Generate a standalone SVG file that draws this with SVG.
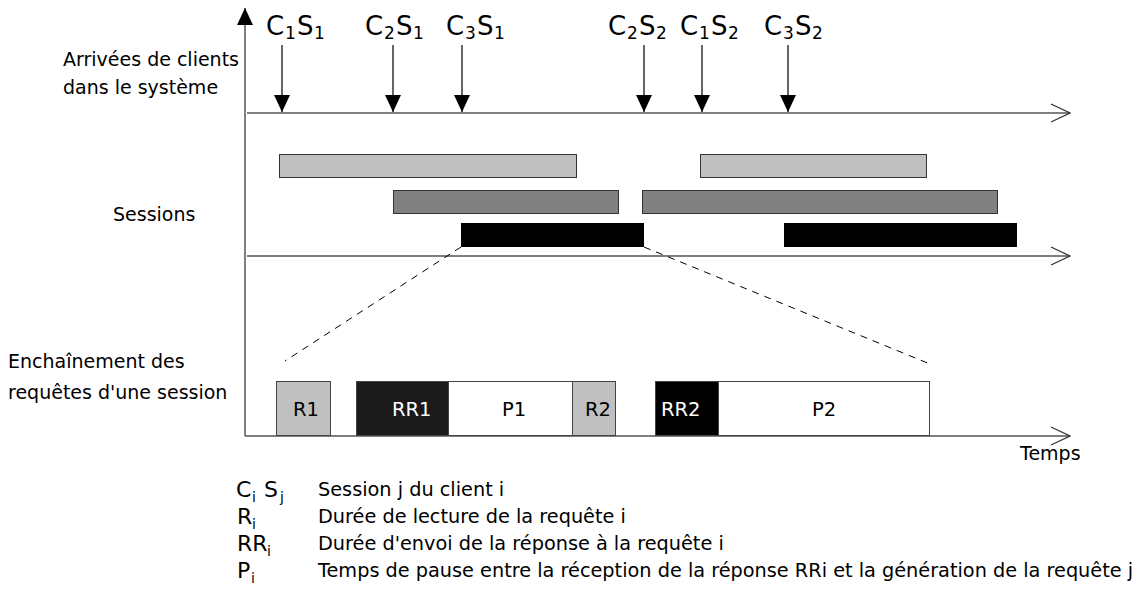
<svg xmlns="http://www.w3.org/2000/svg" width="1146" height="599" viewBox="0 0 1146 599">
<style>
.t{font-family:"DejaVu Sans","Liberation Sans",sans-serif;fill:#000}
.lbl{font-size:19px}
.blbl{font-size:19.5px}
.big{font-size:26px}
.sub{font-size:17px}
.leg{font-size:19.3px}
.sym{font-size:22px}
.ssub{font-size:14px}
.axis{stroke:#555;stroke-width:1.5;fill:none}
.arr{stroke:#000;stroke-width:1.2;fill:none}
.bar{stroke:#333;stroke-width:1}
.box{stroke:#444;stroke-width:1}
.dash{stroke:#000;stroke-width:1;stroke-dasharray:7 6;fill:none}
</style>
<defs>
<marker id="fill" viewBox="0 0 17 16" markerWidth="17" markerHeight="16" refX="17" refY="8" orient="auto" markerUnits="userSpaceOnUse">
<path d="M0,0 L17,8 L0,16 z" fill="#000"/>
</marker>
<marker id="open" viewBox="0 0 21 20" markerWidth="21" markerHeight="20" refX="20" refY="10" orient="auto" markerUnits="userSpaceOnUse">
<path d="M1,1 L20,10 L1,19" fill="none" stroke="#333" stroke-width="1.3"/>
</marker>
</defs>
<rect width="1146" height="599" fill="#fff"/>

<g id="labels">
<text class="t lbl" x="63" y="66">Arrivées de clients</text>
<text class="t lbl" x="63" y="94">dans le système</text>
<text class="t lbl" x="113" y="221">Sessions</text>
<text class="t lbl" x="8" y="368">Enchaînement des</text>
<text class="t lbl" x="8" y="399">requêtes d'une session</text>
<text class="t lbl" x="1020" y="460">Temps</text>
</g>

<g id="connectors">
<line class="axis" x1="245" y1="436" x2="245" y2="8" marker-end="url(#fill)"/>
<line class="axis" x1="247" y1="113" x2="1070" y2="113" marker-end="url(#open)"/>
<line class="axis" x1="247" y1="256" x2="1070" y2="256" marker-end="url(#open)"/>
<line class="axis" x1="245" y1="436" x2="1070" y2="436" marker-end="url(#open)"/>
<line class="arr" x1="282" y1="45" x2="282" y2="112" marker-end="url(#fill)"/>
<line class="arr" x1="393" y1="45" x2="393" y2="112" marker-end="url(#fill)"/>
<line class="arr" x1="462" y1="45" x2="462" y2="112" marker-end="url(#fill)"/>
<line class="arr" x1="644" y1="45" x2="644" y2="112" marker-end="url(#fill)"/>
<line class="arr" x1="702" y1="45" x2="702" y2="112" marker-end="url(#fill)"/>
<line class="arr" x1="788" y1="45" x2="788" y2="112" marker-end="url(#fill)"/>
<line class="dash" x1="461" y1="247" x2="285" y2="361"/>
<line class="dash" x1="644" y1="247" x2="930" y2="364"/>
</g>

<g id="arrivals">
<text class="t big" x="266" y="35">C<tspan class="sub" x="285" y="39">1</tspan><tspan x="297" y="35">S</tspan><tspan class="sub" x="314" y="39">1</tspan></text>
<text class="t big" x="365" y="35">C<tspan class="sub" x="384" y="39">2</tspan><tspan x="396" y="35">S</tspan><tspan class="sub" x="413" y="39">1</tspan></text>
<text class="t big" x="446" y="35">C<tspan class="sub" x="465" y="39">3</tspan><tspan x="477" y="35">S</tspan><tspan class="sub" x="494" y="39">1</tspan></text>
<text class="t big" x="608" y="35">C<tspan class="sub" x="627" y="39">2</tspan><tspan x="639" y="35">S</tspan><tspan class="sub" x="656" y="39">2</tspan></text>
<text class="t big" x="680" y="35">C<tspan class="sub" x="699" y="39">1</tspan><tspan x="711" y="35">S</tspan><tspan class="sub" x="728" y="39">2</tspan></text>
<text class="t big" x="764" y="35">C<tspan class="sub" x="783" y="39">3</tspan><tspan x="795" y="35">S</tspan><tspan class="sub" x="812" y="39">2</tspan></text>
</g>

<g id="sessions">
<rect class="bar" x="279.5" y="154.5" width="297" height="23" fill="#c0c0c0"/>
<rect class="bar" x="700.5" y="154.5" width="226" height="23" fill="#c0c0c0"/>
<rect class="bar" x="393.5" y="190.5" width="225" height="23" fill="#808080"/>
<rect class="bar" x="642.5" y="190.5" width="355" height="23" fill="#808080"/>
<rect x="461" y="223" width="183" height="24" fill="#000"/>
<rect x="784" y="223" width="233" height="24" fill="#000"/>
</g>

<g id="requests">
<g id="R1"><rect class="box" x="276.5" y="381.5" width="54" height="54" fill="#c0c0c0"/><text class="t blbl" x="293" y="416">R1</text></g>
<g id="RR1"><rect class="box" x="356.5" y="381.5" width="92" height="54" fill="#1a1a1a"/><text class="t blbl" x="392" y="416" style="fill:#fff">RR1</text></g>
<g id="P1"><rect class="box" x="448.5" y="381.5" width="124" height="54" fill="#fff"/><text class="t blbl" x="502" y="416">P1</text></g>
<g id="R2"><rect class="box" x="572.5" y="381.5" width="43" height="54" fill="#c0c0c0"/><text class="t blbl" x="585" y="416">R2</text></g>
<g id="RR2"><rect class="box" x="655.5" y="381.5" width="63" height="54" fill="#000"/><text class="t blbl" x="661" y="416" style="fill:#fff">RR2</text></g>
<g id="P2"><rect class="box" x="718.5" y="381.5" width="211" height="54" fill="#fff"/><text class="t blbl" x="812" y="416">P2</text></g>
</g>

<g id="legend">
<text class="t sym" x="236" y="497">C<tspan class="ssub" x="252" y="502">i</tspan><tspan x="264" y="497">S</tspan><tspan class="ssub" x="280" y="502">j</tspan></text>
<text class="t sym" x="237" y="524">R<tspan class="ssub" x="252" y="529">i</tspan></text>
<text class="t sym" x="237" y="551">RR<tspan class="ssub" x="267" y="556">i</tspan></text>
<text class="t sym" x="237" y="578">P<tspan class="ssub" x="251" y="583">i</tspan></text>
<text class="t leg" x="318" y="496">Session j du client i</text>
<text class="t leg" x="318" y="523">Durée de lecture de la requête i</text>
<text class="t leg" x="318" y="550">Durée d'envoi de la réponse à la requête i</text>
<text class="t leg" x="318" y="577">Temps de pause entre la réception de la réponse RRi et la génération de la requête j</text>
</g>
</svg>
